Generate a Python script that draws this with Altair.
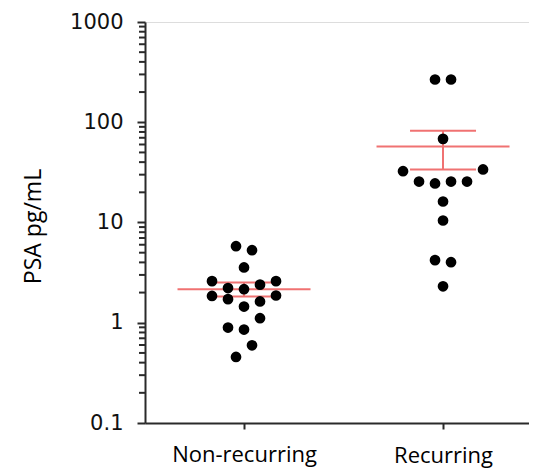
import altair as alt
import pandas as pd

# ---- data ----
groups = ["Non-recurring", "Recurring"]

nonrec_values = [5.80, 5.29, 3.56, 2.60, 2.60, 2.22, 2.40, 2.16, 1.85, 1.72,
                 1.87, 1.63, 1.45, 1.11, 0.895, 0.855, 0.596, 0.456]
nonrec_slots = [-0.5, 0.5, 0, -2, 2, -1, 1, 0, -2, -1, 2, 1, 0, 1, -1, 0, 0.5, -0.5]

rec_values = [267, 267, 68.3, 32.5, 33.8, 25.6, 24.5, 25.6, 25.6, 16.2,
              10.47, 4.21, 4.02, 2.31]
rec_slots = [-0.5, 0.5, 0, -2.5, 2.5, -1.5, -0.5, 0.5, 1.5, 0, 0, -0.5, 0.5, 0]

means = [2.16, 57.4]
upper = [2.52, 82.1]
lower = [1.83, 33.8]

major_ticks = [0.1, 1, 10, 100, 1000]
minor_ticks = [m * 10.0 ** e for e in (-1, 0, 1, 2) for m in range(2, 10)]

# ---- tables ----
pts = pd.DataFrame({
    "g": [1] * len(nonrec_values) + [2] * len(rec_values),
    "value": nonrec_values + rec_values,
    "slot": nonrec_slots + rec_slots,
})
stats = pd.DataFrame({"g": [1, 2], "mean": means, "upper": upper, "lower": lower})
minor = pd.DataFrame({"v": minor_ticks})

RED = "#f07272"
AX = "#2a2a2a"

xscale = alt.Scale(domain=[0.5025, 2.432], nice=False, zero=False)
yscale = alt.Scale(type="log", domain=[0.1, 1000], nice=False)

xaxis = alt.Axis(
    values=[1, 2], grid=False, title=None,
    labelExpr="datum.value == 1 ? 'Non-recurring' : 'Recurring'",
    labelFont="Open Sans", labelFontSize=22, labelColor="#000",
    labelBaseline="alphabetic",
    labelPadding={"condition": {"test": "datum.value == 2", "value": 33}, "value": 32},
    tickSize=6, tickWidth=2, tickColor=AX, domainColor=AX, domainWidth=2,
)
yaxis = alt.Axis(
    values=major_ticks, grid=False,
    labelExpr="datum.value < 1 ? '0.1' : format(datum.value, 'd')",
    labelFont="DejaVu Sans", labelFontSize=21, labelColor="#111",
    labelPadding=14, labelBaseline="middle",
    tickSize=8, tickWidth=2, tickColor=AX, domainColor=AX, domainWidth=2,
    title="PSA pg/mL", titleFont="Open Sans", titleFontSize=23,
    titleFontWeight="normal", titleColor="#000",
    titleX=-112, titleY=204, titleBaseline="middle", titleAngle=-90,
)

points = alt.Chart(pts).transform_calculate(
    xpos="datum.g + datum.slot * 0.0804"
).mark_circle(size=115, color="#000", opacity=1).encode(
    x=alt.X("xpos:Q", scale=xscale, axis=xaxis),
    y=alt.Y("value:Q", scale=yscale, axis=yaxis),
)

mean_line = alt.Chart(stats).mark_tick(
    orient="horizontal", size=133, thickness=2, color=RED, opacity=1
).encode(
    x=alt.X("g:Q", scale=xscale),
    y=alt.Y("mean:Q", scale=yscale),
)

cap_hi = alt.Chart(stats).mark_tick(
    orient="horizontal", size=66, thickness=2, color=RED, opacity=1
).encode(x=alt.X("g:Q", scale=xscale), y=alt.Y("upper:Q", scale=yscale))

cap_lo = alt.Chart(stats).mark_tick(
    orient="horizontal", size=66, thickness=2, color=RED, opacity=1
).encode(x=alt.X("g:Q", scale=xscale), y=alt.Y("lower:Q", scale=yscale))

err = alt.Chart(stats).mark_rule(color=RED, strokeWidth=2).encode(
    x=alt.X("g:Q", scale=xscale),
    y=alt.Y("lower:Q", scale=yscale),
    y2="upper:Q",
)

minor_ticks_layer = alt.Chart(minor).mark_rule(color=AX, strokeWidth=2).encode(
    x=alt.value(-6), x2=alt.value(0),
    y=alt.Y("v:Q", scale=yscale),
)

chart = alt.layer(
    minor_ticks_layer, err, mean_line, cap_hi, cap_lo, points
).properties(
    width=384, height=401,
    autosize=alt.AutoSizeParams(type="none"),
    padding={"left": 137, "top": 14, "right": 0, "bottom": 45},
).configure_view(stroke=None).configure(background="white")

chart.save("out.html", embed_options={"renderer": "svg", "actions": False})
